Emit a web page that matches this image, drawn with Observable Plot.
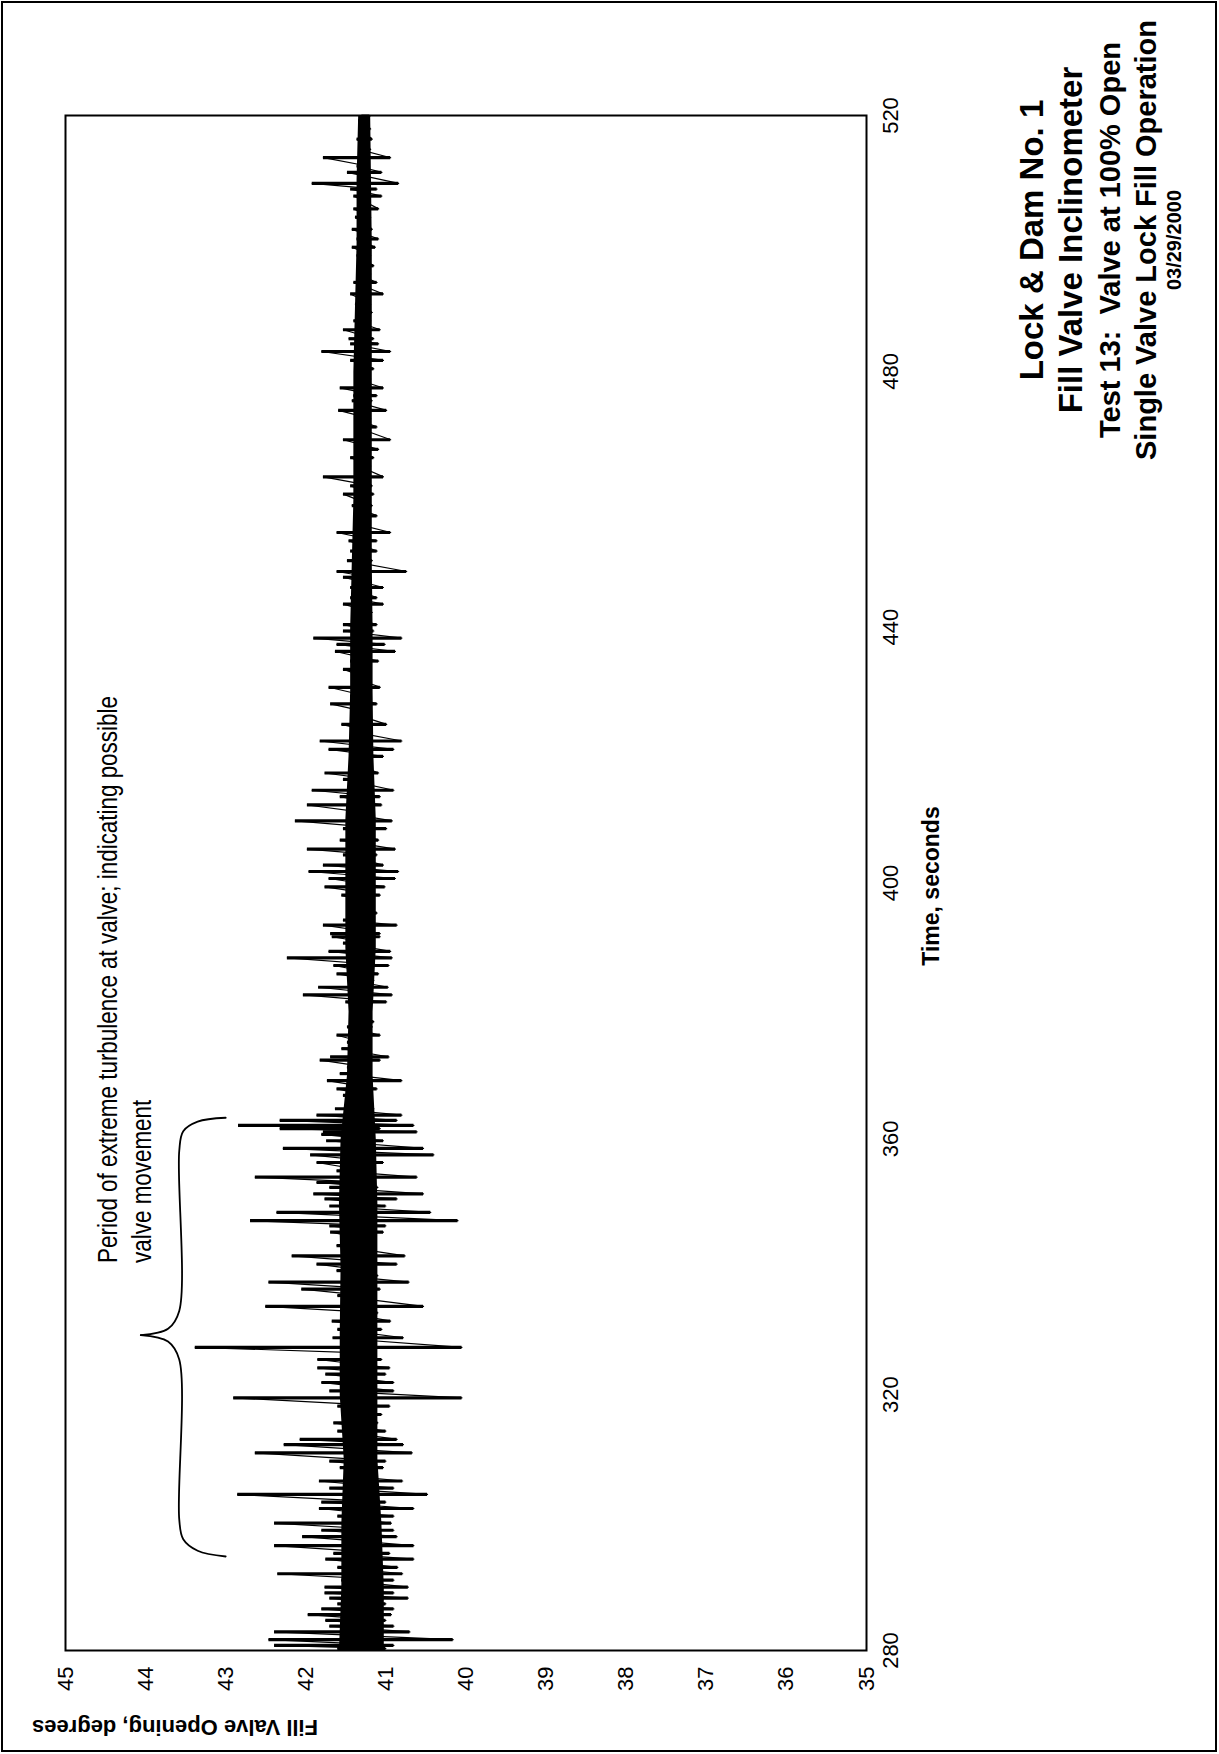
<!DOCTYPE html>
<html>
<head>
<meta charset="utf-8">
<script src="https://cdn.jsdelivr.net/npm/d3@7"></script>
<script src="https://cdn.jsdelivr.net/npm/@observablehq/plot@0.6"></script>
<style>
  html, body { margin: 0; padding: 0; background: #fff; }
  body { width: 1219px; height: 1754px; position: relative; overflow: hidden; font-family: "Liberation Sans", Arial, sans-serif; }
  #border { position: absolute; left: 1px; top: 1px; width: 1216px; height: 1751px; box-sizing: border-box; border: 2px solid #000; }
  #rot { position: absolute; left: 0; top: 0; width: 1754px; height: 1219px; transform-origin: 0 0; transform: translate(0px, 1754px) rotate(-90deg); }
  #chart { position: absolute; left: 0; top: 0; }
  .t { position: absolute; width: 700px; text-align: center; white-space: pre; color: #000; font-weight: bold; font-family: "Liberation Sans", Arial, sans-serif; }
</style>
</head>
<body>
<div id="border"></div>
<div id="rot">
  <div id="chart"></div>
</div>
<script>
// ---- data ----
const timeTicks = [280, 320, 360, 400, 440, 480, 520];
const valueTicks = [35, 36, 37, 38, 39, 40, 41, 42, 43, 44, 45];

const sampleTime = [
  280.3, 280.8, 281.7, 282.9, 283.8, 284.7, 285.6, 286.5, 287.3, 288.2,
  289.0, 289.9, 291.0, 292.0, 293.0, 294.3, 295.2, 296.4, 297.8, 298.8,
  299.9, 301.0, 302.2, 303.2, 304.4, 305.4, 306.5,
  307.3, 308.6, 309.6, 310.9, 312.2, 313.0, 314.3, 315.6, 316.9, 318.2,
  319.5, 320.6, 321.9, 323.2, 324.2, 325.5, 326.5, 327.4, 328.9, 330.2,
  331.5, 332.8, 333.8,
  335.5, 336.5, 337.6, 338.6, 339.4, 340.4, 341.7, 343.3, 344.1, 345.4,
  346.4, 347.2, 348.5, 349.5, 350.6, 351.4, 352.4, 353.2, 354.0, 355.0,
  356.3, 357.5, 358.5, 359.7, 360.7,
  361.1, 361.6, 362.1, 362.9, 363.7, 364.7, 365.8, 366.8, 367.8, 369.1,
  370.2, 371.2, 372.3, 372.8, 374.1, 375.1, 376.2, 377.5, 378.3, 380.1,
  381.4, 382.5, 383.7, 384.8, 385.8, 387.1,
  388.3, 389.3, 390.6, 391.6, 392.1, 393.4, 394.2, 395.3, 396.8, 398.1,
  399.4, 400.7, 401.8, 402.8, 404.4, 405.3, 406.7, 408.5, 409.7, 410.9,
  412.2, 413.5, 414.5,
  416.2, 417.2, 418.8, 419.8, 420.9, 422.2, 423.7, 424.8, 426.6, 428.0,
  429.2, 430.6, 432.1, 433.4, 434.7, 436.2, 437.3, 438.3, 439.4, 440.4,
  441.4,
  442.3, 443.6, 444.6, 446.2, 447.8, 448.7, 450.4, 451.9, 453.5, 454.8,
  456.1, 457.4, 459.0, 460.8, 462.1, 463.5, 465.2, 466.5, 467.8,
  469.3, 471.3, 472.6, 473.9, 475.4, 476.2, 477.4, 478.8, 480.4, 481.7,
  483.1, 484.3, 485.1, 486.5, 487.9, 489.2, 490.5, 492.1, 493.9, 495.2,
  496.5, 498.1, 499.4, 500.7, 502.2, 504.1, 505.4, 507.4, 508.5, 509.4,
  511.1, 512.1, 513.4, 514.7, 516.3, 517.9, 519.2, 519.9
];
const sampleHigh = [
  41.60, 42.39, 42.46, 42.39, 41.70, 41.75, 41.97, 41.80, 41.60, 41.70,
  41.76, 41.76, 41.55, 42.35, 41.60, 41.75, 41.65, 42.39, 42.04, 41.80,
  42.39, 41.60, 41.83, 41.80, 42.85, 41.70, 41.83,
  41.48, 41.57, 41.70, 42.63, 42.27, 42.07, 41.60, 41.65, 41.55, 41.60,
  42.90, 41.70, 41.80, 41.75, 41.85, 41.85, 41.55, 43.38, 41.66, 41.60,
  41.67, 41.50, 42.50,
  41.60, 42.05, 42.46, 41.55, 41.61, 41.86, 42.17, 41.61, 41.44, 41.69,
  41.70, 42.69, 42.36, 41.70, 41.76, 41.90, 41.70, 41.86, 42.63, 41.61,
  41.86, 41.94, 42.28, 41.74, 41.80,
  41.78, 42.32, 42.84, 42.32, 41.86, 41.63, 41.48, 41.53, 41.61, 41.73,
  41.57, 41.48, 41.82, 41.69, 41.55, 41.48, 41.61, 41.48, 41.44, 41.40,
  41.50, 42.03, 41.84, 41.44, 41.61, 41.65,
  42.23, 41.71, 41.53, 41.67, 41.69, 41.78, 41.53, 41.48, 41.40, 41.55,
  41.76, 41.71, 41.96, 41.78, 41.53, 41.98, 41.57, 41.53, 42.13, 41.48,
  41.98, 41.57, 41.92,
  41.53, 41.76, 41.42, 41.44, 41.71, 41.82, 41.44, 41.55, 41.44, 41.69,
  41.44, 41.71, 41.40, 41.53, 41.44, 41.63, 41.61, 41.90, 41.53, 41.53,
  41.40,
  41.40, 41.53, 41.44, 41.44, 41.53, 41.61, 41.48, 41.44, 41.46, 41.61,
  41.36, 41.40, 41.42, 41.53, 41.44, 41.78, 41.34, 41.44, 41.38,
  41.53, 41.38, 41.38, 41.59, 41.42, 41.40, 41.57, 41.38, 41.38, 41.44,
  41.80, 41.44, 41.46, 41.53, 41.40, 41.36, 41.38, 41.44, 41.40, 41.36,
  41.34, 41.36, 41.42, 41.36, 41.42, 41.38, 41.40, 41.40, 41.44, 41.92,
  41.48, 41.36, 41.78, 41.34, 41.36, 41.32, 41.34, 41.30
];
const sampleLow = [
  41.00, 40.90, 40.16, 40.70, 40.90, 41.00, 40.93, 40.90, 41.00, 40.72,
  40.90, 40.72, 40.90, 40.79, 40.85, 40.65, 40.95, 40.65, 40.86, 40.90,
  40.93, 40.90, 40.65, 41.00, 40.48, 40.90, 40.79,
  41.19, 41.03, 41.00, 40.67, 40.78, 40.86, 41.00, 41.10, 41.05, 40.95,
  40.05, 40.90, 40.90, 41.00, 40.95, 41.05, 41.20, 40.05, 40.78, 41.05,
  40.94, 41.10, 40.53,
  41.25, 41.07, 40.71, 41.10, 41.23, 40.86, 40.76, 41.15, 41.15, 41.03,
  41.00, 40.10, 40.44, 41.00, 40.86, 40.53, 41.10, 41.20, 40.61, 41.23,
  41.03, 40.40, 40.53, 41.03, 41.28,
  40.61, 41.07, 40.65, 40.86, 40.80, 41.15, 41.17, 41.23, 41.11, 40.80,
  41.19, 41.23, 41.07, 40.96, 41.21, 41.28, 41.07, 41.17, 41.15, 41.23,
  40.99, 40.92, 40.97, 41.15, 41.09, 40.96,
  40.92, 40.94, 41.19, 41.07, 41.07, 40.86, 41.19, 41.11, 41.23, 41.07,
  41.01, 40.88, 40.84, 41.03, 41.11, 40.88, 41.09, 40.99, 40.92, 41.19,
  41.05, 41.07, 40.90,
  41.17, 41.09, 41.19, 41.03, 40.90, 40.80, 41.19, 40.99, 41.19, 41.11,
  41.23, 41.07, 41.23, 41.23, 41.09, 40.88, 41.01, 40.80, 41.15, 41.11,
  41.19,
  41.17, 41.03, 41.11, 41.03, 41.19, 40.74, 41.17, 41.11, 41.11, 40.94,
  41.23, 41.11, 41.17, 41.15, 41.17, 41.03, 41.19, 41.15, 41.09,
  40.94, 41.11, 41.19, 40.99, 41.17, 41.11, 41.03, 41.19, 41.15, 41.03,
  40.94, 41.09, 41.15, 41.07, 41.19, 41.17, 41.19, 41.03, 41.11, 41.19,
  41.15, 41.19, 41.13, 41.09, 41.17, 41.19, 41.09, 41.05, 41.11, 40.84,
  41.05, 41.23, 40.94, 41.19, 41.17, 41.19, 41.21, 41.20
];

// dense core of the trace (solid black band), read every 10 s
const coreTime = [280, 290, 300, 310, 320, 330, 340, 350, 360, 370, 380, 390, 400, 410, 420, 430, 440, 450, 460, 470, 480, 490, 500, 510, 520];
const coreHigh = [41.58, 41.55, 41.55, 41.52, 41.57, 41.57, 41.56, 41.58, 41.56, 41.48, 41.46, 41.50, 41.50, 41.50, 41.46, 41.44, 41.44, 41.42, 41.40, 41.40, 41.40, 41.38, 41.36, 41.36, 41.34];
const coreLow  = [41.02, 41.02, 41.05, 41.10, 41.10, 41.10, 41.10, 41.10, 41.12, 41.16, 41.16, 41.12, 41.12, 41.12, 41.15, 41.16, 41.16, 41.17, 41.17, 41.17, 41.17, 41.17, 41.17, 41.18, 41.19];

// bracket annotation
const braceTime  = [294.7, 295.6, 297.4, 300.5, 325.5, 328.3, 329.3,  329.3, 330.3, 333.1, 358.1, 361.2, 362.7, 363.3];
const braceValue = [43.00, 43.35, 43.53, 43.58, 43.58, 43.72, 44.06,  44.06, 43.72, 43.58, 43.58, 43.53, 43.35, 43.00];
const braceSide  = ["a", "a", "a", "a", "a", "a", "a",  "b", "b", "b", "b", "b", "b", "b"];
const noteText  = ["Period of extreme turbulence at valve; indicating possible", "valve movement"];
const noteTime  = [340.6, 340.6];
const noteValue = [44.46, 44.04];

const titleLines = ["Lock & Dam No. 1", "Fill Valve Inclinometer", "Test 13:  Valve at 100% Open", "Single Valve Lock Fill Operation", "03/29/2000"];
const xLabel = "Time, seconds";
const yLabel = "Fill Valve Opening, degrees";

// ---- build tables ----
const samples = sampleTime.map((t, i) => ({t, hi: sampleHigh[i], lo: sampleLow[i]}));
const trace = sampleTime.flatMap((t, i) => [{t, v: sampleHigh[i]}, {t, v: sampleLow[i]}]);
const core = coreTime.map((t, i) => ({t, hi: coreHigh[i], lo: coreLow[i]}));
const brace = braceTime.map((t, i) => ({t, v: braceValue[i], side: braceSide[i]}));
const notes = noteText.map((s, i) => ({s, t: noteTime[i], v: noteValue[i]}));

const W = 1754, H = 1219;
const chart = Plot.plot({
  width: W, height: H,
  marginLeft: 103, marginRight: 116, marginTop: 65, marginBottom: 353,
  style: {fontFamily: '"Liberation Sans", Arial, sans-serif', fontSize: "22px", color: "#000", background: "transparent"},
  x: {domain: [280, 520], ticks: timeTicks, tickSize: 0, tickPadding: 16, tickFormat: d => String(d), label: null},
  y: {domain: [35, 45], ticks: valueTicks, tickSize: 0, tickPadding: 16, tickFormat: d => String(d), label: null},
  marks: [
    Plot.areaY(core, {x: "t", y1: "lo", y2: "hi", fill: "#000"}),
    Plot.line(trace, {x: "t", y: "v", stroke: "#000", strokeWidth: 1.2, strokeLinejoin: "round"}),
    Plot.ruleX(samples, {x: "t", y1: "lo", y2: "hi", stroke: "#000", strokeWidth: 3.2}),
    Plot.line(brace, {x: "t", y: "v", z: "side", stroke: "#000", strokeWidth: 1.8, curve: "catmull-rom"}),
    Plot.text(notes, {x: "t", y: "v", text: "s", textAnchor: "start", fontSize: 27, fill: "#000",
      fontFamily: '"Liberation Sans", Arial, sans-serif', className: "note"}),
    Plot.frame({stroke: "#000", strokeWidth: 2})
  ]
});
document.getElementById("chart").appendChild(chart);

// narrow the annotation face (Arial Narrow look)
chart.querySelectorAll(".note text").forEach(el => {
  const len = el.getComputedTextLength();
  el.setAttribute("textLength", (len * 0.83).toFixed(1));
  el.setAttribute("lengthAdjust", "spacingAndGlyphs");
});

// ---- titles and axis titles (in the unrotated frame) ----
const rot = document.getElementById("rot");
function addText(txt, cx, cy, size, extra) {
  const d = document.createElement("div");
  d.className = "t";
  d.textContent = txt;
  d.style.fontSize = size + "px";
  d.style.lineHeight = size + "px";
  d.style.left = (cx - 350) + "px";
  d.style.top = (cy - size / 2) + "px";
  if (extra) Object.assign(d.style, extra);
  rot.appendChild(d);
  return d;
}
const titleCx = 1514;
const titleCy = [1031, 1070, 1110, 1146, 1174];
const titleSz = [33, 33, 29, 29, 20];
titleLines.forEach((s, i) => addText(s, titleCx, titleCy[i], titleSz[i]));
addText(xLabel, 868, 931, 23);
addText(yLabel, 27, 175, 22, {transform: "rotate(-90deg)"});
</script>
</body>
</html>
